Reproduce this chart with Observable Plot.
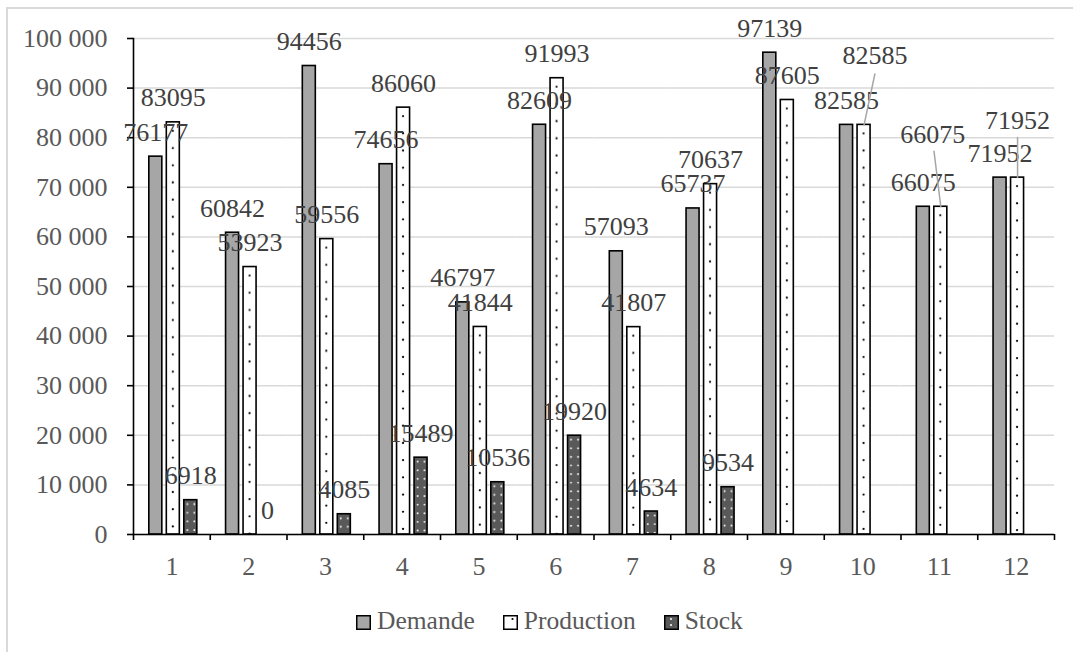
<!DOCTYPE html>
<html>
<head>
<meta charset="utf-8">
<script src="https://cdn.jsdelivr.net/npm/d3@7"></script>
<script src="https://cdn.jsdelivr.net/npm/@observablehq/plot@0.6"></script>
<style>
  body { margin: 0; background: #fff; }
  #wrap { position: relative; width: 1073px; height: 652px; overflow: hidden; background: #fff; }
  #frame { position: absolute; left: 6px; top: 7px; width: 1100px; height: 700px;
           border-top: 2px solid #d9d9d9; border-left: 2px solid #d9d9d9; }
  #chart { position: absolute; left: 0; top: 0; }
  #legend { position: absolute; left: 356px; top: 608px; display: flex; align-items: center; gap: 28px;
            font-family: "Liberation Serif", "Times New Roman", serif; font-size: 25.5px; color: #595959; line-height: 1; }
  #legend .item { display: flex; align-items: center; }
  #legend svg { margin-right: 6px; margin-top: 4px; }
</style>
</head>
<body>
<div id="wrap">
  <div id="frame"></div>
  <svg width="0" height="0" style="position:absolute">
    <defs>
      <pattern id="patProd" patternUnits="objectBoundingBox" x="0" y="0" width="1" height="1">
        <rect width="40" height="600" fill="#ffffff"></rect>
      </pattern>
      <pattern id="patStock" patternUnits="objectBoundingBox" x="0" y="0" width="1" height="1">
        <rect width="40" height="600" fill="#595959"></rect>
      </pattern>
      <pattern id="swProd" patternUnits="userSpaceOnUse" width="14" height="14">
        <rect width="14" height="14" fill="#ffffff"></rect>
        <circle cx="9.5" cy="4" r="1.1" fill="#000"></circle>
      </pattern>
      <pattern id="swStock" patternUnits="userSpaceOnUse" width="14" height="14">
        <rect width="14" height="14" fill="#595959"></rect>
        <circle cx="7" cy="4" r="1" fill="#fff"></circle>
        <circle cx="7" cy="10" r="1" fill="#fff"></circle>
      </pattern>
    </defs>
  </svg>
  <div id="chart"></div>
  <div id="legend"></div>
</div>
<script>
// ---- data ----
const months = [1, 2, 3, 4, 5, 6, 7, 8, 9, 10, 11, 12];
const seriesNames = ["Demande", "Production", "Stock"];
const demande = [76177, 60842, 94456, 74656, 46797, 82609, 57093, 65737, 97139, 82585, 66075, 71952];
const production = [83095, 53923, 59556, 86060, 41844, 91993, 41807, 70637, 87605, 82585, 66075, 71952];
const stock = [6918, 0, 4085, 15489, 10536, 19920, 4634, 9534, null, null, null, null];
const yTicks = [0, 10000, 20000, 30000, 40000, 50000, 60000, 70000, 80000, 90000, 100000];

// ---- table built from the arrays ----
const valuesBySeries = {Demande: demande, Production: production, Stock: stock};
const rows = [];
for (const s of seriesNames) {
  months.forEach((m, i) => {
    const v = valuesBySeries[s][i];
    if (v != null) rows.push({month: m, series: s, value: v});
  });
}

// ---- fill patterns (decoration, anchored to each bar's top-left corner) ----
const NS = "http://www.w3.org/2000/svg";
function addDots(id, columns, stepY, offsetY, r, color) {
  const p = document.getElementById(id);
  for (let y = offsetY; y < 600; y += stepY) {
    for (const cx of columns) {
      const c = document.createElementNS(NS, "circle");
      c.setAttribute("cx", cx); c.setAttribute("cy", y); c.setAttribute("r", r); c.setAttribute("fill", color);
      p.appendChild(c);
    }
  }
}
addDots("patProd", [6.5], 17.2, 9, 1.1, "#000");
addDots("patStock", [3.5, 10.5], 8.6, 4.5, 0.95, "#fff");

// ---- styling / layout ----
const fills = {Demande: "#a6a6a6", Production: "url(#patProd)", Stock: "url(#patStock)"};
const swatchFills = {Demande: "#a6a6a6", Production: "url(#swProd)", Stock: "url(#swStock)"};
const labelColor = "#404040";
const tickColor = "#595959";
const halfStep = 921 / 24;
// data labels moved with a leader line (Production, months 10-12)
const leaders = {
  10: {dx: 11, dy: -61, length: 52, rotate: 12},
  11: {dx: -8, dy: -64, length: 56, rotate: -7},
  12: {dx: 0, dy: -49, length: 40, rotate: 0}
};
const isLeader = d => d.series === "Production" && leaders[d.month];
const fmt = d => d3.format(",")(d).replace(/,/g, " ");

const leaderMarks = [];
for (const m of Object.keys(leaders).map(Number)) {
  const L = leaders[m];
  const d = rows.filter(r => r.series === "Production" && r.month === m);
  leaderMarks.push(
    Plot.vector(d, {fx: "month", x: "series", y: "value", anchor: "start",
      length: L.length, rotate: L.rotate, r: 0, stroke: "#a6a6a6", strokeWidth: 1.5}),
    Plot.text(d, {fx: "month", x: "series", y: "value", text: r => String(r.value),
      lineAnchor: "bottom", dx: L.dx, dy: L.dy, fill: labelColor})
  );
}

const chart = Plot.plot({
  width: 1073,
  height: 590,
  marginLeft: 133,
  marginRight: 19,
  marginTop: 38,
  marginBottom: 56,
  style: {fontFamily: "'Liberation Serif', 'Times New Roman', serif", fontSize: "26px", background: "transparent", overflow: "visible"},
  fx: {domain: months, padding: 0, round: false, label: null},
  x: {domain: seriesNames, paddingInner: 0.257, paddingOuter: 0.821, align: 0.55, round: false, axis: null},
  y: {domain: [0, 100000], label: null},
  marks: [
    Plot.gridY(yTicks, {stroke: "#d9d9d9", strokeOpacity: 1, strokeWidth: 1.5}),
    ...seriesNames.map(s => Plot.barY(rows.filter(r => r.series === s), {
      fx: "month", x: "series", y: "value", fill: fills[s], stroke: "#000", strokeWidth: 1.6
    })),
    Plot.ruleY([0], {stroke: "#000", strokeWidth: 1.6}),
    Plot.frame({anchor: "left", facetAnchor: "left", stroke: "#000", strokeWidth: 1.6}),
    Plot.axisY(yTicks, {tickSize: 6, tickPadding: 20, stroke: "#000", strokeWidth: 1.6, fill: tickColor, tickFormat: fmt, label: null}),
    Plot.axisFx({anchor: "bottom", tickSize: 0, tickPadding: 22, fill: tickColor, label: null}),
    Plot.axisFx({anchor: "bottom", tickSize: 6, stroke: "#000", strokeWidth: 1.6, fill: "none", dx: -halfStep, label: null}),
    Plot.axisFx({anchor: "bottom", ticks: [12], tickSize: 6, stroke: "#000", strokeWidth: 1.6, fill: "none", dx: halfStep, label: null}),
    Plot.text(rows.filter(d => !isLeader(d)), {
      fx: "month", x: "series", y: "value", text: d => String(d.value),
      lineAnchor: "bottom", dy: -16, fill: labelColor
    }),
    ...leaderMarks
  ]
});
document.getElementById("chart").appendChild(chart);

// ---- legend ----
const legend = document.getElementById("legend");
for (const s of seriesNames) {
  const item = document.createElement("div");
  item.className = "item";
  item.innerHTML = `<svg width="15" height="15"><rect x="0.75" y="0.75" width="13.5" height="13.5" fill="${swatchFills[s]}" stroke="#000" stroke-width="1.5"></rect></svg><span>${s}</span>`;
  legend.appendChild(item);
}
</script>
</body>
</html>
